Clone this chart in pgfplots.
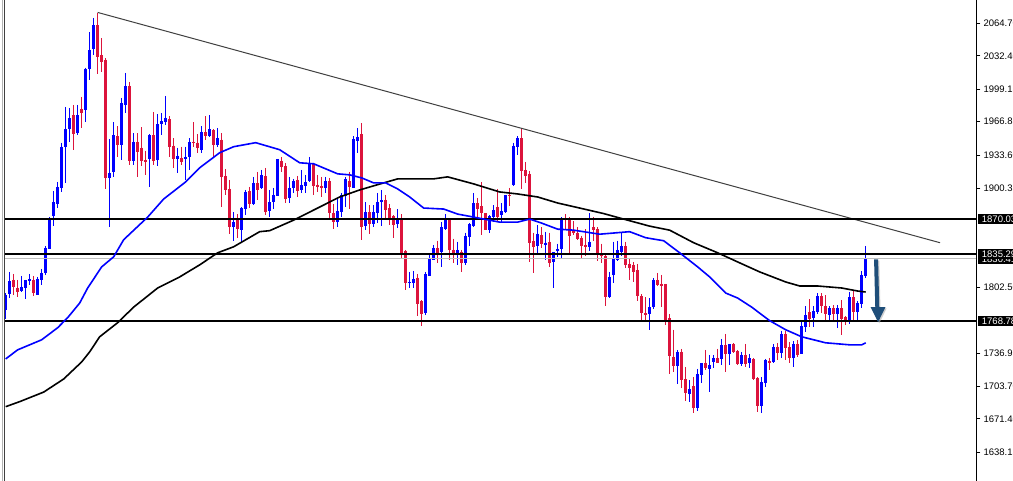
\documentclass[border=0pt]{standalone}
\usepackage{pgfplots}
\usepackage{pgfplotstable}
\usepackage{fontspec}
\setmainfont{Liberation Sans}
\pgfplotsset{compat=1.18}
\definecolor{upc}{HTML}{0000FF}
\definecolor{dnc}{HTML}{DC143C}
\definecolor{arrowc}{HTML}{1F4E79}
\pgfplotstableread{
k h t b l
0 1796.5 1794.5 1779.5 1770.5
1 1817.5 1808.5 1795.5 1791.5
4 1813.5 1802.5 1798.5 1797.5
5 1809.5 1809.5 1801.5 1790.5
6 1815.5 1810.5 1808.5 1804.5
8 1812.5 1810.5 1794.5 1794.5
9 1820.5 1816.5 1809.5 1804.5
10 1843.5 1841.5 1816.5 1814.5
11 1872 1871 1840.5 1840.5
12 1898 1887 1873 1863
13 1907 1902 1885 1881
14 1946 1942 1901 1897
15 1981.5 1959.5 1942 1906
16 1980.5 1970.5 1959.5 1947
18 1983.5 1973.5 1955.5 1953.5
20 2020.5 2019.5 1978.5 1966.5
21 2056 2038 2019.5 2008.5
22 2070 2063 2039 2033
26 1949.5 1916 1911 1862
27 1966.5 1953.5 1917 1912
29 1990.5 1985.5 1944 1929
30 2015.5 2002.5 1983.5 1975.5
32 1955.5 1947 1928 1924
36 1954.5 1953.5 1930 1902
38 1974.5 1964.5 1929 1923
39 1975.5 1967.5 1964.5 1953.5
40 1992.5 1970.5 1966.5 1963.5
43 1941 1933 1930 1916
45 1942 1932 1930 1909
46 1950.5 1947 1932 1919
49 1962.5 1956.5 1939 1936
51 1973.5 1959.5 1952.5 1951.5
53 1960.5 1950.5 1944 1942
57 1877 1867 1862 1848.5
59 1882 1881 1859 1847.5
60 1899 1897 1880 1874
62 1912 1906 1885 1884
64 1919 1914 1901 1900
66 1899 1887 1878 1872
67 1901 1894 1887 1880
68 1930 1930 1893 1893
71 1912 1901 1891 1886
72 1910 1908 1901 1896
74 1919 1904 1899 1896
75 1914 1907 1903 1896
76 1932 1925 1908 1907
80 1912 1908 1901 1896
83 1890 1878 1867 1862
84 1896 1894 1877 1872
85 1912 1910 1893 1882
87 1952.5 1949.5 1901 1901
88 1960.5 1951.5 1948 1936
90 1887 1877 1863 1859
92 1884 1877 1865 1862
93 1896 1887 1876 1866
94 1899 1889 1887 1863
98 1880 1871 1865 1861
101 1817.5 1807.5 1806.5 1801.5
102 1818.5 1810.5 1806.5 1801.5
105 1817.5 1815.5 1776.5 1774.5
106 1836.5 1831.5 1813.5 1813.5
107 1844.5 1841.5 1829.5 1829.5
109 1867 1862 1837.5 1822.5
110 1875 1871 1860 1859
113 1847.5 1839.5 1835.5 1824.5
115 1856.5 1853.5 1826.5 1824.5
116 1866 1865 1852.5 1843.5
117 1896 1886 1863 1862
121 1874 1873 1859 1856.5
122 1884 1879 1872 1867
124 1886 1878 1874 1866
125 1894 1894 1877 1876
127 1946 1943 1904 1903
128 1952.5 1950.5 1942 1934
133 1864 1855.5 1843.5 1836.5
135 1857.5 1846.5 1844.5 1829.5
137 1837.5 1837.5 1827.5 1801.5
138 1845.5 1840.5 1838.5 1832.5
139 1872 1871 1840.5 1831.5
146 1876 1847.5 1842.5 1838.5
151 1817.5 1812.5 1792.5 1791.5
152 1847.5 1830.5 1814.5 1806.5
153 1848.5 1839.5 1829.5 1828.5
154 1856.5 1843.5 1837.5 1833.5
161 1791.5 1782.5 1775.5 1760
162 1811.5 1809.5 1782.5 1780.5
168 1740 1738 1724 1706
171 1710 1701 1696 1688.5
173 1721 1716 1682.5 1679.5
174 1727 1727 1715 1707
176 1735 1725 1721 1698
177 1735 1732 1728 1722
179 1751 1745 1731 1725
181 1746 1746 1736 1725
184 1738 1735 1726 1724
186 1736 1732 1727 1722
189 1713 1708 1684.5 1677.5
190 1731 1730 1707 1703
192 1746 1743 1728 1727
194 1759 1756 1737 1732
197 1749 1746 1732 1723
199 1768 1764 1736 1736
200 1783.5 1774.5 1763 1758
202 1783.5 1778.5 1771.5 1763
203 1796.5 1793.5 1777.5 1775.5
206 1783.5 1781.5 1774.5 1769
208 1784.5 1781.5 1775.5 1762
211 1797.5 1792.5 1768 1766
213 1788.5 1786.5 1777.5 1769
214 1818.5 1814.5 1785.5 1781.5
215 1843.5 1830.5 1813.5 1811.5
}\upcandles
\pgfplotstableread{
k h t b l
2 1815.5 1809.5 1802.5 1794.5
3 1809.5 1801.5 1797.5 1792.5
7 1813.5 1809.5 1796.5 1793.5
17 1983.5 1973.5 1954.5 1939
19 1991.5 1979.5 1975.5 1960.5
23 2075 2063 2031 2014.5
24 2050 2033 2026.5 2016.5
25 2030 2028.5 1911 1900
28 1962.5 1952.5 1944 1932
31 2006.5 2002.5 1928 1924
33 1955.5 1947 1937 1912
34 1961.5 1941 1928 1923
35 1938 1929 1927 1914
37 1976.5 1953.5 1928 1924
41 1972.5 1969.5 1942 1932
42 1950.5 1943 1930 1921
44 1942 1931 1927 1924
47 1966.5 1947 1946 1942
48 1954.5 1946 1941 1936
50 1972.5 1956.5 1952.5 1949
52 1959.5 1958.5 1944 1932
54 1955.5 1949 1912 1882
55 1920 1913 1899 1894
56 1909 1900 1862 1855.5
58 1875 1871 1860 1851.5
61 1902 1898 1885 1881
63 1917 1906 1899 1889
65 1921 1913 1877 1874
69 1932 1928 1922 1917
70 1926 1923 1890 1886
73 1913 1909 1898 1892
77 1926 1925 1903 1894
78 1914 1904 1902 1897
79 1912 1903 1901 1892
81 1911 1908 1876 1869
82 1885 1876 1867 1860
86 1917 1908 1902 1880
89 1965.5 1954.5 1862 1849.5
91 1884 1877 1865 1855.5
95 1894 1889 1879 1871
96 1885 1881 1871 1864
97 1874 1873 1864 1851.5
99 1875 1871 1835.5 1831.5
100 1839.5 1838.5 1806.5 1799.5
103 1815.5 1811.5 1785.5 1773.5
104 1789.5 1788.5 1775.5 1764
108 1848.5 1841.5 1836.5 1826.5
111 1871 1870 1839.5 1829.5
112 1850.5 1839.5 1835.5 1826.5
114 1839.5 1837.5 1826.5 1817.5
118 1891 1886 1880 1871
119 1907 1883 1876 1854.5
120 1876 1876 1859 1859
123 1900 1882 1872 1868
126 1901 1894 1893 1883
129 1960.5 1950.5 1918 1900
130 1927 1919 1913 1906
131 1918 1915 1846.5 1827.5
132 1856.5 1848.5 1842.5 1816.5
134 1862 1854.5 1845.5 1841.5
136 1856.5 1847.5 1826.5 1822.5
140 1875 1871 1870 1859
141 1872 1870 1853.5 1836.5
142 1868 1858.5 1856.5 1854.5
143 1862 1856.5 1850.5 1849.5
144 1853.5 1851.5 1843.5 1831.5
145 1860 1844.5 1842.5 1833.5
147 1872 1862 1859 1848.5
148 1862 1860 1836.5 1828.5
149 1845.5 1836.5 1833.5 1826.5
150 1834.5 1833.5 1792.5 1783.5
155 1847.5 1843.5 1824.5 1821.5
156 1830.5 1825.5 1821.5 1809.5
157 1827.5 1824.5 1817.5 1807.5
158 1825.5 1819.5 1793.5 1788.5
159 1795.5 1793.5 1776.5 1769
160 1792.5 1776.5 1774.5 1769.5
163 1816.5 1809.5 1804.5 1803.5
164 1814.5 1805.5 1803.5 1782.5
165 1805.5 1805.5 1769 1765
166 1775.5 1771.5 1734 1716
167 1760 1733 1724 1718
169 1741 1738 1710 1702
170 1723 1711 1697 1689.5
172 1713 1704 1682.5 1677.5
175 1740 1727 1722 1720
178 1741 1732 1727 1727
180 1756 1745 1736 1718
182 1747 1746 1738 1737
183 1740 1739 1726 1725
185 1746 1735 1726 1723
187 1732 1731 1711 1710
188 1713 1712 1684.5 1678.5
191 1732 1729 1727 1720
193 1747 1743 1737 1730
195 1759 1756 1742 1730
196 1748 1743 1732 1727
198 1750 1746 1735 1733
201 1790.5 1777.5 1770.5 1763
204 1796.5 1793.5 1783.5 1776.5
205 1794.5 1783.5 1775.5 1769
207 1784.5 1781.5 1775.5 1769.5
209 1789.5 1781.5 1770.5 1755
210 1773.5 1772.5 1768 1765
212 1798.5 1792.5 1777.5 1769.5
}\dncandles
\pgfplotstableread{
k p
0 1731
3 1740
9 1750
13 1762
15.5 1772
18.5 1786.5
20.5 1801.5
24 1822.5
27 1832.5
29.5 1849.5
35.5 1872
39.5 1890
45 1907
48.5 1921
53.5 1936
57 1942
62.5 1946
68.5 1939
73.5 1926
77 1925
83 1915
86 1914
89 1911
92 1906
95 1906
98 1900
101 1892
104.5 1881
109.5 1880
113 1875
117 1872
123.5 1867
128 1867
131 1870
134 1866
138 1860
142 1859
148.5 1855
153 1856.5
156 1857.5
160 1851.5
164.5 1848.5
168.5 1836.5
173 1822.5
176 1812.5
180 1796.5
183 1791.5
186.5 1782.5
191 1769
195 1760
199 1753
205 1747
211 1745
214 1745
215 1747
}\mablue
\pgfplotstableread{
k p
0 1683.5
3.5 1688.5
9.5 1698
14.5 1711
19 1728
21 1738
23.5 1753
28 1767
32 1782.5
38 1801.5
43.5 1812.5
48.5 1824.5
53 1836.5
57 1842.5
63.5 1857.5
66 1858.5
72 1869
81 1887
83.5 1892
88.5 1899
94.5 1906
98 1910
107 1910
110.5 1912
117 1905
123.5 1897
128 1895
133 1892
138 1886
143.5 1881
149.5 1875.5
154.5 1870
161 1863
166 1859
172 1846.5
178 1836.5
183.5 1826.5
188.5 1817.5
195 1807.5
198.5 1803.5
203 1803.5
209 1801.5
213 1798.5
215 1797.5
}\mablack
\newcommand{\candles}[2]{%
 \addplot[draw=none, no markers, forget plot, error bars/.cd, y dir=minus, y explicit, error mark=none,
   error bar style={line width=1pt,color=#2}]
   table[x=k,y=h,y error minus expr=\thisrow{h}-\thisrow{l}]{#1};
 \addplot[draw=none, no markers, forget plot, error bars/.cd, y dir=minus, y explicit, error mark=none,
   error bar style={line width=3.2pt,color=#2}]
   table[x=k,y=t,y error minus expr=\thisrow{t}-\thisrow{b}]{#1};
}
\begin{document}
\begin{tikzpicture}
\path[use as bounding box, clip] (0,0) rectangle (1013pt,481pt);
\fill[white] (0,0) rectangle (1013pt,481pt);
\begin{axis}[
  at={(5pt,0pt)}, anchor=south west,
  scale only axis, width=971.3pt, height=481pt,
  xmin=-0.1675, xmax=242.66, ymin=1609.6, ymax=2087.87,
  axis x line=none, axis y line*=right,
  y axis line style={line width=1.2pt,-},
  clip=false,
  ytick={1638.15,1671.40,1703.70,1736.95,1802.50,1900.35,1933.60,1966.85,1999.15,2032.40,2064.70},
  tick align=outside, major tick length=4pt,
  tick style={line width=0.8pt,black},
  yticklabel style={font=\fontsize{9.5}{11}\selectfont, anchor=west, inner xsep=3pt,
    /pgf/number format/.cd, fixed, fixed zerofill, precision=2, 1000 sep={}, assume math mode=true},
]
\candles{\upcandles}{upc}
\candles{\dncandles}{dnc}
\addplot[line width=1pt, color=black!75, forget plot] coordinates {(23,2075.5) (233.6,1846.5)};
\addplot[line width=1pt, color=black!25, forget plot] coordinates {(-0.1675,1830.41) (242.66,1830.41)};
\addplot[line width=2pt, black, forget plot] coordinates {(-0.1675,1870.03) (242.66,1870.03)};
\addplot[line width=2pt, black, forget plot] coordinates {(-0.1675,1835.29) (242.66,1835.29)};
\addplot[line width=2pt, black, forget plot] coordinates {(-0.1675,1768.78) (242.66,1768.78)};
\addplot[line width=1.6pt, color=black, forget plot] table[x=k,y=p]{\mablack};
\addplot[line width=1.6pt, color=upc, forget plot] table[x=k,y=p]{\mablue};
\fill[black!30, opacity=.6, xshift=1.2pt, yshift=-1.2pt] (axis cs:217.1,1830) -- (axis cs:218.1,1830) -- (axis cs:218.4,1782.5) -- (axis cs:219.95,1782.5) -- (axis cs:218.1,1767.5) -- (axis cs:216.25,1782.5) -- (axis cs:217.4,1782.5) -- cycle;
\fill[arrowc] (axis cs:217.1,1830) -- (axis cs:218.1,1830) -- (axis cs:218.4,1782.5) -- (axis cs:219.95,1782.5) -- (axis cs:218.1,1767.5) -- (axis cs:216.25,1782.5) -- (axis cs:217.4,1782.5) -- cycle;
\tikzset{pl/.style={anchor=west, fill=black, text=white, inner xsep=4pt, inner ysep=2pt, xshift=1.4pt, minimum width=40pt, align=left, font=\fontsize{9.5}{11}\selectfont}}
\node[pl] at (axis cs:242.66,1830.41) {1830.41};
\node[pl] at (axis cs:242.66,1835.29) {1835.29};
\node[pl] at (axis cs:242.66,1870.03) {1870.03};
\node[pl] at (axis cs:242.66,1768.78) {1768.78};
\end{axis}
\draw[black!30, line width=1.3pt] (2.4pt,0) -- (2.4pt,481pt);
\draw[black!75, line width=1pt] (4.5pt,0) -- (4.5pt,481pt);
\end{tikzpicture}
\end{document}
